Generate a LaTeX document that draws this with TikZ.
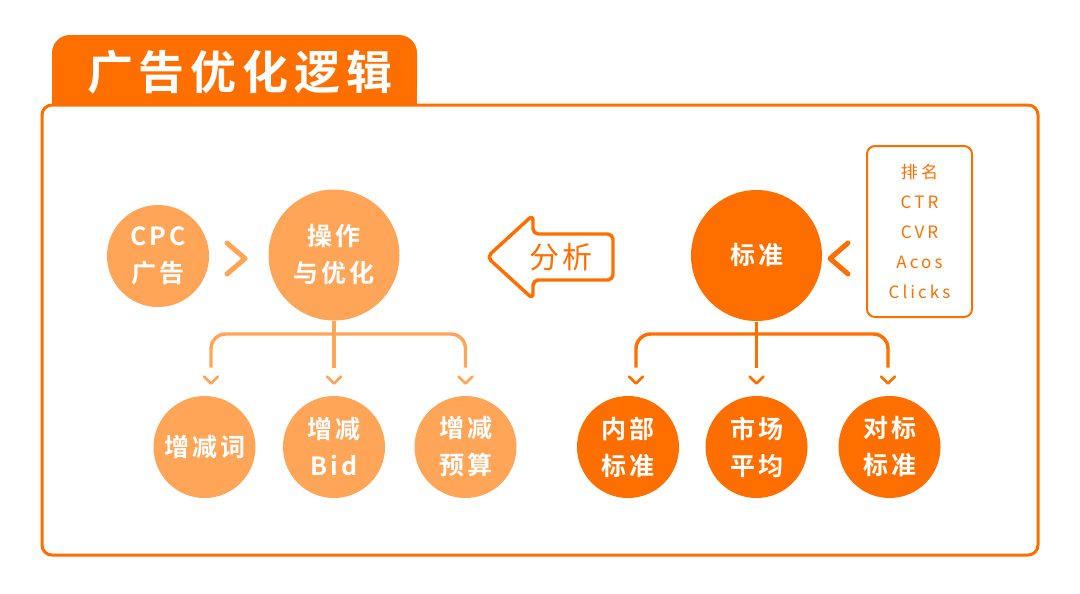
\documentclass[tikz,border=0pt]{standalone}
\usepackage{fontspec}
\usetikzlibrary{calc}
\newfontfamily\cjkbold[LetterSpace=12]{Noto Sans CJK SC Bold}
\newfontfamily\cjktitle[LetterSpace=13]{Noto Sans CJK SC Bold}
\newfontfamily\cjkreg[LetterSpace=18]{Noto Sans CJK SC}
\newfontfamily\cjkarrow[LetterSpace=7]{Noto Sans CJK SC}
\definecolor{odark}{RGB}{255,111,0}
\definecolor{olight}{RGB}{254,165,88}

\tikzset{every picture/.style={line width=0.75pt}}
\tikzset{
  ball/.style={circle, inner sep=0pt, text=white, align=center, font=\cjkbold\fontsize{18.75}{27.75}\selectfont},
  lsmall/.style={ball, fill=olight, minimum size=76.5pt},
  lbig/.style={ball, fill=olight, minimum size=98.25pt},
  dsmall/.style={ball, fill=odark, minimum size=76.5pt},
  dbig/.style={ball, fill=odark, minimum size=98.25pt},
  lconn/.style={draw=olight, line width=2.6pt, rounded corners=11pt},
  dconn/.style={draw=odark, line width=2.6pt, rounded corners=11pt},
  tick/.style={line width=1.9pt, line cap=round, line join=round},
  chevron/.style={line width=3.75pt, line cap=round, line join=round},
}

\begin{document}
\begin{tikzpicture}[x=0.75pt,y=0.75pt,yscale=-1,xscale=1]
\useasboundingbox (0,0) rectangle (1080,593);
%Title tab
\fill [odark, rounded corners=13.5pt] (52,35) rectangle (417,105);
\fill [odark] (52,70) rectangle (417,105);
\node (title) [text=white, font=\cjktitle\fontsize{34.5}{40}\selectfont] at (240,72) {广告优化逻辑};
%Frame
\draw [odark, line width=2.25pt, rounded corners=7.5pt] (42,105) rectangle (1038,555);
%Left side
\node (cpc) [lsmall] at (158,256) {CPC\\广告};
\node (op) [lbig] at (334,255) {操作\\与优化};
\node (w1) [lsmall] at (204.5,447) {增减词};
\node (w2) [lsmall] at (334,447) {增减\\Bid};
\node (w3) [lsmall] at (465.5,447) {增减\\预算};
\draw [olight, chevron] (227,243) -- (245,258.5) -- (227,274);
\coordinate (lbar) at (334,334);
\draw [lconn] ($(w1.north)+(6.5,-28)$) |- (lbar) -| ($(w3.north)+(0,-28)$);
\draw [lconn, rounded corners=0pt] (op.south) -- ($(w2.north)+(0,-28)$);
\draw [olight, tick] ($(w1.north)+(-0.5,-19)$) -- ++(7,7) -- ++(7,-7);
\foreach \n in {w2,w3}
  \draw [olight, tick] ($(\n.north)+(-7,-19)$) -- ++(7,7) -- ++(7,-7);
%Analysis arrow
\draw [odark, line width=2.6pt, rounded corners=4pt, line join=round] (487,257) -- (533,215) -- (533,234) -- (613,234) -- (613,280) -- (533,280) -- (533,299) -- cycle;
\node (ana) [text=odark, font=\cjkarrow\fontsize{22.5}{26}\selectfont] at (561,257) {分析};
%Right side
\node (std) [dbig] at (756.5,255.5) {标准};
\node (s1) [dsmall] at (628,447) {内部\\标准};
\node (s2) [dsmall] at (756.5,447) {市场\\平均};
\node (s3) [dsmall] at (889.5,447) {对标\\标准};
\node (kpi) [draw=odark, line width=1.5pt, rounded corners=6pt, minimum width=78.75pt, minimum height=128.25pt, text=odark, align=center, font=\cjkreg\fontsize{12.75}{22.5}\selectfont] at (919.5,231.5) {排名\\CTR\\CVR\\Acos\\Clicks};
\draw [odark, chevron] (848,243) -- (830,258.5) -- (848,274);
\coordinate (rbar) at (756.5,334);
\draw [dconn] ($(s1.north)+(8,-28)$) |- (rbar) -| ($(s3.north)+(-1.5,-28)$);
\draw [dconn, rounded corners=0pt] (std.south) -- ($(s2.north)+(0,-28)$);
\draw [odark, tick] ($(s1.north)+(1,-19)$) -- ++(7,7) -- ++(7,-7);
\draw [odark, tick] ($(s2.north)+(-7,-19)$) -- ++(7,7) -- ++(7,-7);
\draw [odark, tick] ($(s3.north)+(-8.5,-19)$) -- ++(7,7) -- ++(7,-7);
\end{tikzpicture}
\end{document}
